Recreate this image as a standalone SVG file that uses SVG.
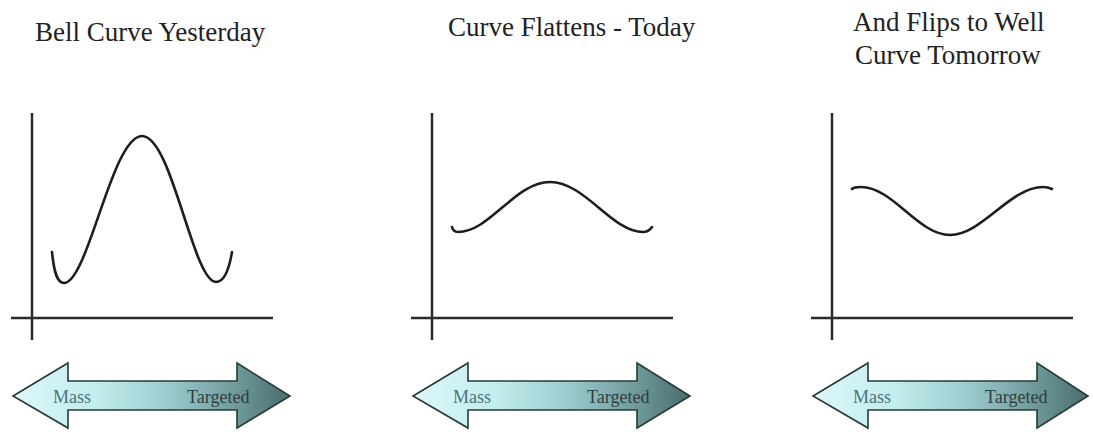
<svg xmlns="http://www.w3.org/2000/svg" width="1093" height="432" viewBox="0 0 1093 432">
  <style>
    .title { font-family: "Liberation Serif", "Times New Roman", serif; font-size: 27px; fill: #222; }
    .axis { stroke: #2b2b2b; stroke-width: 2.5; fill: none; }
    .curve { stroke: #1e1e1e; stroke-width: 2.6; fill: none; stroke-linecap: round; }
    .arrow { fill: url(#grad); stroke: #2a3838; stroke-width: 1.6; stroke-linejoin: miter; }
    .mass { font-family: "Liberation Serif", "Times New Roman", serif; font-size: 18px; fill: #4d7378; }
    .targ { font-family: "Liberation Serif", "Times New Roman", serif; font-size: 18px; fill: #2e3f40; }
  </style>
  <defs>
    <linearGradient id="grad" x1="0" y1="0" x2="1" y2="0">
      <stop offset="0" stop-color="#dcf8f8"/>
      <stop offset="0.3" stop-color="#c2ecee"/>
      <stop offset="0.55" stop-color="#9ecdcf"/>
      <stop offset="0.8" stop-color="#6f9b9c"/>
      <stop offset="1" stop-color="#4a6c6d"/>
    </linearGradient>
  </defs>
  <rect width="1093" height="432" fill="#ffffff"/>

  <g id="panel-yesterday">
    <text class="title" x="35" y="41">Bell Curve Yesterday</text>
    <line class="axis" x1="32" y1="113" x2="32" y2="340"/>
    <line class="axis" x1="11" y1="318" x2="273" y2="318"/>
    <path class="curve" d="M52,252 C54,272 57,283 64,283 C88,283 112,136 142,136 C172,136 193,282 216,282 C224,282 229,270 232,252"/>
    <g id="arrow-1">
      <polygon class="arrow" points="13,396 68,363 68,381 237,381 237,363 290,396 237,428 237,410 68,410 68,428"/>
      <text class="mass" x="53" y="403">Mass</text>
      <text class="targ" x="187" y="403">Targeted</text>
    </g>
  </g>

  <g id="panel-today">
    <text class="title" x="448" y="36">Curve Flattens - Today</text>
    <line class="axis" x1="432" y1="113" x2="432" y2="340"/>
    <line class="axis" x1="411" y1="318" x2="673" y2="318"/>
    <path class="curve" d="M452,227 C453,231 455,232 458,232 C490,232 515,182 550,182 C585,182 612,232 643,232 C647,232 650,230 652,227"/>
    <g id="arrow-2">
      <polygon class="arrow" points="413,396 468,363 468,381 637,381 637,363 690,396 637,428 637,410 468,410 468,428"/>
      <text class="mass" x="453" y="403">Mass</text>
      <text class="targ" x="587" y="403">Targeted</text>
    </g>
  </g>

  <g id="panel-tomorrow">
    <text class="title" x="853" y="31">And Flips to Well</text>
    <text class="title" x="855" y="64">Curve Tomorrow</text>
    <line class="axis" x1="832" y1="113" x2="832" y2="340"/>
    <line class="axis" x1="811" y1="318" x2="1073" y2="318"/>
    <path class="curve" d="M852,189 C854,187 857,187 861,187 C893,187 918,235 950,235 C982,235 1010,187 1043,187 C1048,187 1050,188 1052,189"/>
    <g id="arrow-3">
      <polygon class="arrow" points="813,396 868,363 868,381 1037,381 1037,363 1088,396 1037,428 1037,410 868,410 868,428"/>
      <text class="mass" x="853" y="403">Mass</text>
      <text class="targ" x="985" y="403">Targeted</text>
    </g>
  </g>

  <g id="connectors"></g>
</svg>
